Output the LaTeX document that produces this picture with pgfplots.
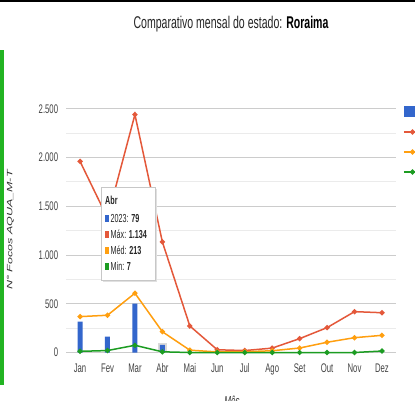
\documentclass[border=0pt]{standalone}
\usepackage{fontspec}
\setmainfont{Liberation Sans}[FakeStretch=0.62]
\newfontfamily\plainsans{Liberation Sans}
\usepackage{pgfplots}
\pgfplotsset{compat=1.18}

\definecolor{cBlue}{HTML}{3366CC}
\definecolor{cRed}{HTML}{E4583A}
\definecolor{cOrange}{HTML}{FF9F10}
\definecolor{cGreen}{HTML}{1C9C22}
\definecolor{cText}{HTML}{444444}
\definecolor{cGrid}{HTML}{CCCCCC}
\definecolor{cMinor}{HTML}{EBEBEB}
\definecolor{cSide}{HTML}{22B422}

\newcommand{\tk}{\fontsize{12.5}{14}\selectfont}

\begin{document}
\begin{tikzpicture}
\useasboundingbox (0pt,0pt) rectangle (415pt,400pt);
\clip (0pt,0pt) rectangle (415pt,400pt);
\fill[white] (0pt,0pt) rectangle (415pt,400pt);
% window frame bits
\fill[black] (0pt,397.5pt) rectangle (415pt,400pt);
\fill[cSide] (0pt,15pt) rectangle (4pt,350pt);

\begin{axis}[
    at={(66.3pt,47.5pt)}, anchor=south west,
    scale only axis, width=329.4pt, height=243.8pt,
    xmin=-0.5, xmax=11.5, ymin=0, ymax=2500,
    xtick={0,...,11},
    xticklabels={Jan,Fev,Mar,Abr,Mai,Jun,Jul,Ago,Set,Out,Nov,Dez},
    ytick={0,500,1000,1500,2000,2500},
    yticklabels={0,500,1.000,1.500,2.000,2.500},
    minor ytick={250,750,1250,1750,2250},
    ymajorgrids, yminorgrids,
    major grid style={cGrid, line width=0.8pt},
    minor grid style={cMinor, line width=0.8pt},
    extra y ticks={0}, extra y tick labels={},
    extra y tick style={grid style={color=black!70, line width=1.3pt}},
    axis line style={draw=none},
    tick style={draw=none},
    ticklabel style={font=\tk, text=cText, inner sep=0pt},
    yticklabel style={anchor=east, xshift=-8pt},
    xticklabel style={anchor=base, yshift=-20pt},
    clip=false,
    legend style={at={(1.0222,1.01)}, anchor=north west, draw=none, fill=none,
        inner sep=0pt, row sep=9pt, font=\tk,
        nodes={inner sep=0pt, text height=9pt, text depth=2pt}},
    legend cell align=left,
]
% hover halo on Abr
\addplot[ybar, bar width=9pt, bar shift=0pt, fill=black!15, draw=none, forget plot]
    coordinates {(3,95)};
\addplot[ybar, bar width=5pt, bar shift=0pt, fill=cBlue, draw=none,
    legend image code/.code={\fill[cBlue] (0pt,-5.5pt) rectangle (12pt,5.5pt);}]
    coordinates {(0,316) (1,162) (2,500) (3,79) (4,0) (5,0) (6,0) (7,0) (8,0) (9,0) (10,0) (11,0)};
\addlegendentry{2023}
\addplot[cRed, line width=1.5pt, mark=*, mark size=1.8pt]
    coordinates {(0,1960) (1,1380) (2,2440) (3,1134) (4,272) (5,28) (6,20) (7,45) (8,142) (9,255) (10,419) (11,408)};
\addlegendentry{Máx}
\addplot[cOrange, line width=1.5pt, mark=*, mark size=1.8pt]
    coordinates {(0,368) (1,382) (2,608) (3,213) (4,24) (5,6) (6,8) (7,18) (8,46) (9,105) (10,152) (11,176)};
\addlegendentry{Méd}
\addplot[cGreen, line width=1.5pt, mark=*, mark size=1.8pt]
    coordinates {(0,12) (1,20) (2,74) (3,7) (4,0) (5,0) (6,0) (7,0) (8,0) (9,0) (10,0) (11,15)};
\addlegendentry{Min}
\end{axis}

\begin{scope}[x=1pt, y=1pt]
% title
\node[anchor=base, font=\fontsize{17}{19}\selectfont, text=black!85] at (231,371)
    {Comparativo mensal do estado: \textbf{\color{black}Roraima}};
% axis titles
\node[xscale=0.62, rotate=90, transform shape, font=\plainsans\itshape\fontsize{12.5}{14}\selectfont, text=black!80]
    at (10.5,170) {N° Focos AQUA\_M-T};
\node[anchor=base, font=\itshape\fontsize{13}{15}\selectfont, text=black!80] at (232,-5.5) {Mês};

% tooltip
\fill[black!12] (102.5,118.5) rectangle (156.5,211.5);
\filldraw[fill=white, draw=black!22, line width=0.6pt] (101,120) rectangle (155,213);
\begin{scope}[every node/.style={anchor=base west, inner sep=0pt, font=\fontsize{11.6}{13}\selectfont, text=black!85}]
\node[font=\bfseries\fontsize{11.6}{13}\selectfont] at (105,196) {Abr};
\fill[cBlue]   (105,178.5) rectangle (108.5,185.5);
\node at (110.5,178) {2023: \textbf{79}};
\fill[cRed]    (105,162.5) rectangle (108.5,169.5);
\node at (110.5,162) {Máx: \textbf{1.134}};
\fill[cOrange] (105,146.5) rectangle (108.5,153.5);
\node at (110.5,146) {Méd: \textbf{213}};
\fill[cGreen]  (105,130.5) rectangle (108.5,137.5);
\node at (110.5,130) {Min: \textbf{7}};
\end{scope}
\end{scope}
\end{tikzpicture}
\end{document}
